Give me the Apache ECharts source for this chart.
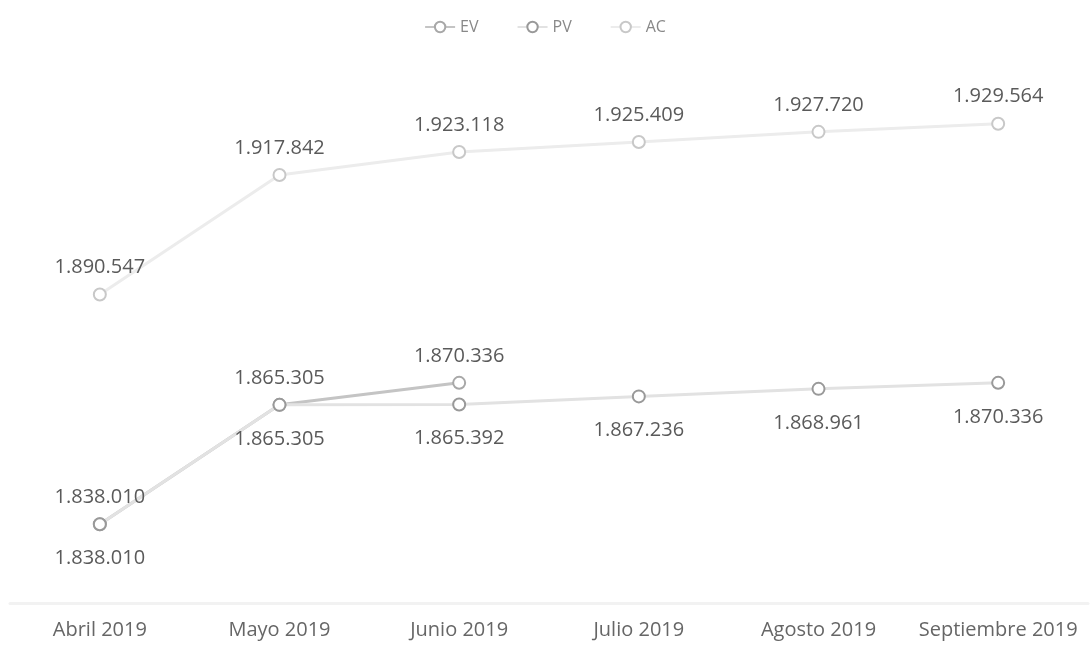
<!DOCTYPE html>
<html>
<head>
<meta charset="utf-8">
<script src="https://cdn.jsdelivr.net/npm/echarts@6/dist/echarts.min.js"></script>
<style>
  html, body { margin: 0; padding: 0; background: #fff; }
  #main { width: 1090px; height: 647px; }
</style>
</head>
<body>
<div id="main"></div>
<script>
var meses = ['Abril 2019', 'Mayo 2019', 'Junio 2019', 'Julio 2019', 'Agosto 2019', 'Septiembre 2019']
var ev = [1838010, 1865305, 1870336, null, null, null]
var pv = [1838010, 1865305, 1865392, 1867236, 1868961, 1870336]
var ac = [1890547, 1917842, 1923118, 1925409, 1927720, 1929564]

// separador de miles con punto
function miles(v) {
  return String(v).replace(/\B(?=(\d{3})+(?!\d))/g, '.')
}

var myChart = echarts.init(document.getElementById('main'))

function serie(nombre, datos, colorLinea, colorMarca, pos, dist) {
  return {
    name: nombre,
    type: 'line',
    data: datos,
    symbol: 'emptyCircle',
    symbolSize: 12,
    color: colorMarca,
    lineStyle: { color: colorLinea, width: 3 },
    itemStyle: { color: colorMarca, borderColor: colorMarca, borderWidth: 2 },
    label: {
      show: true,
      position: pos,
      distance: dist,
      color: '#5a5a5a',
      fontSize: 20,
      fontFamily: 'Open Sans',
      formatter: function (p) { return miles(p.value) }
    }
  }
}

myChart.setOption({
  animation: false,
  textStyle: { fontFamily: 'Open Sans' },
  legend: {
    top: 14,
    left: 'center',
    itemGap: 38,
    itemWidth: 30,
    itemHeight: 13,
    textStyle: { color: '#888', fontSize: 16 }
  },
  grid: { left: 10, right: 2, top: 100, bottom: 44 },
  xAxis: {
    type: 'category',
    data: meses,
    boundaryGap: true,
    axisLine: { lineStyle: { color: '#f2f2f2', width: 3 } },
    axisTick: { show: false },
    axisLabel: { color: '#666', fontSize: 20, margin: 17, interval: 0 }
  },
  yAxis: {
    type: 'value',
    min: 1820000,
    max: 1935000,
    show: false,
    splitLine: { show: false }
  },
  series: [
    serie('EV', ev, '#c4c4c4', '#a8a8a8', 'top', 10),
    serie('PV', pv, '#e2e2e2', '#999999', 'bottom', 17),
    serie('AC', ac, '#ececec', '#c8c8c8', 'top', 10)
  ]
})

window.addEventListener('resize', function () {
  myChart.resize()
})
</script>
</body>
</html>
